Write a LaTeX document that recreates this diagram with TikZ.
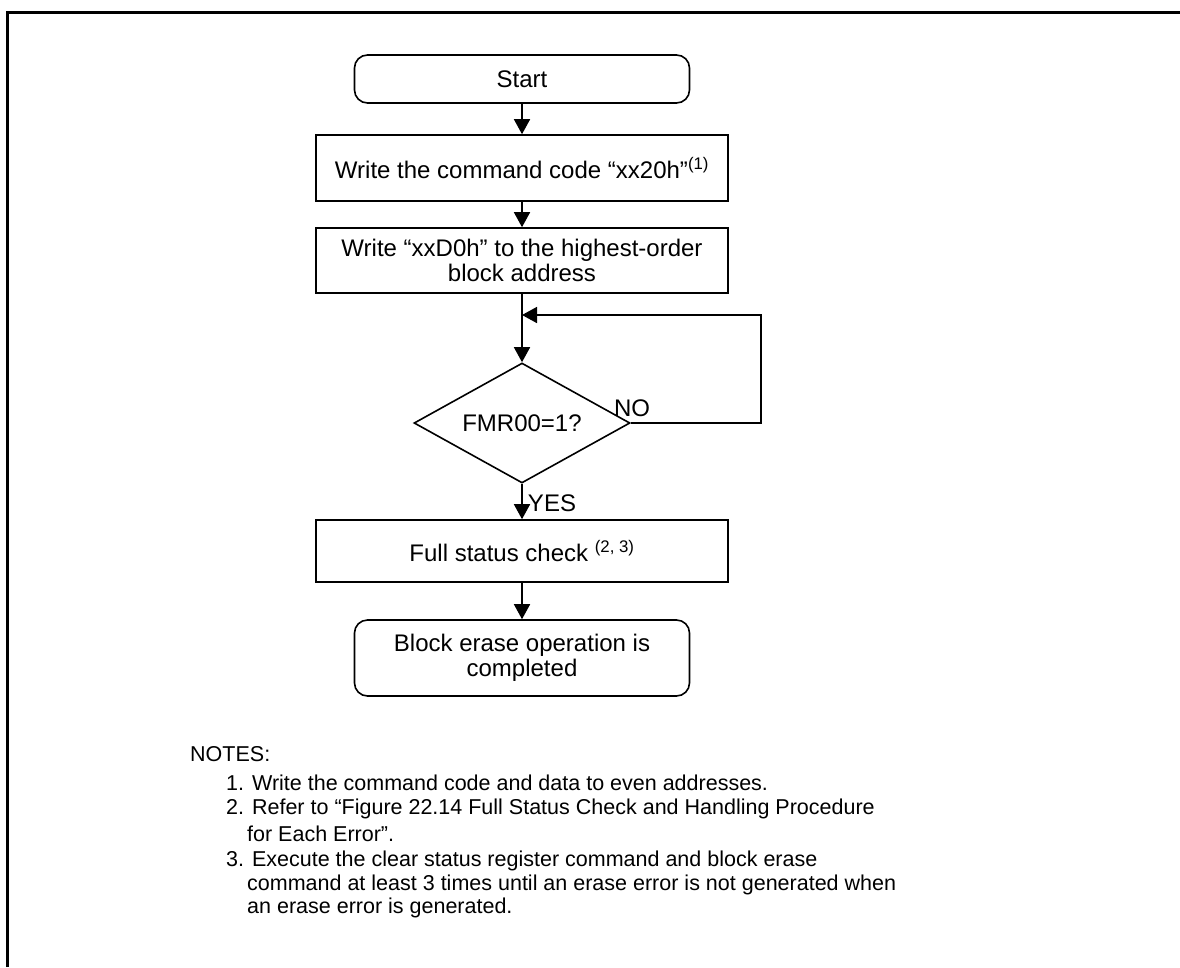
\documentclass[tikz,border=0pt]{standalone}
\usepackage{fontspec}
\setmainfont{Liberation Sans}
\usetikzlibrary{shapes.geometric,arrows.meta}
\begin{document}
\begin{tikzpicture}[x=1pt,y=-1pt,
  boxtext/.style={font=\fontsize{24}{25.5}\selectfont},
  notetext/.style={font=\fontsize{21.5}{24}\selectfont, anchor=base west, inner sep=0pt},
  procbox/.style={draw, line width=1.6pt, rectangle, inner sep=0pt, align=center, boxtext},
  termbox/.style={draw, line width=1.6pt, rectangle, rounded corners=13pt, inner sep=0pt, align=center, boxtext},
  decbox/.style={draw, line width=1.6pt, diamond, inner sep=0pt, aspect=1.8, boxtext},
  flow/.style={line width=1.6pt, -{Triangle[width=16pt,length=15pt]}},
  frameline/.style={line width=3pt}
]
\useasboundingbox (0,0) rectangle (1180,967);
\draw[frameline] (7.5,967) -- (7.5,12.5) -- (1180,12.5);

\node[termbox, minimum width=335pt, minimum height=48pt] (start) at (522,79) {Start};
\node[procbox, minimum width=412pt, minimum height=66pt] (b1) at (522,168) {Write the command code “xx20h”\textsuperscript{(1)}};
\node[procbox, minimum width=412pt, minimum height=65pt] (b2) at (522,260.5) {Write “xxD0h” to the highest-order\\block address};
\node[decbox, minimum width=216pt, minimum height=120pt] (dec) at (522,423) {FMR00=1?};
\node[procbox, minimum width=412pt, minimum height=62pt] (b3) at (522,551) {Full status check \textsuperscript{(2, 3)}};
\node[termbox, minimum width=335pt, minimum height=76pt] (end) at (522,658) {Block erase operation is\\completed};

\coordinate (j) at (522,315);
\coordinate (c1) at (761,423);
\coordinate (c2) at (761,315);

\draw[flow] (start) -- (b1);
\draw[flow] (b1) -- (b2);
\draw[flow] (b2) -- (dec);
\draw[flow] (dec.east) -- (c1) -- (c2) -- (j);
\draw[flow] (dec) -- (b3);
\draw[flow] (b3) -- (end);

\node[boxtext, inner sep=0pt] (no) at (632,408) {NO};
\node[boxtext, inner sep=0pt] (yes) at (552,503) {YES};

\node[notetext] (n0) at (190,761) {NOTES:};
\node[notetext] (n1) at (226,790) {1. Write the command code and data to even addresses.};
\node[notetext] (n2) at (226,814) {2. Refer to “Figure 22.14 Full Status Check and Handling Procedure};
\node[notetext] (n2b) at (247,841) {for Each Error”.};
\node[notetext] (n3) at (226,866) {3. Execute the clear status register command and block erase};
\node[notetext] (n3b) at (247,890) {command at least 3 times until an erase error is not generated when};
\node[notetext] (n3c) at (247,913) {an erase error is generated.};
\end{tikzpicture}
\end{document}
